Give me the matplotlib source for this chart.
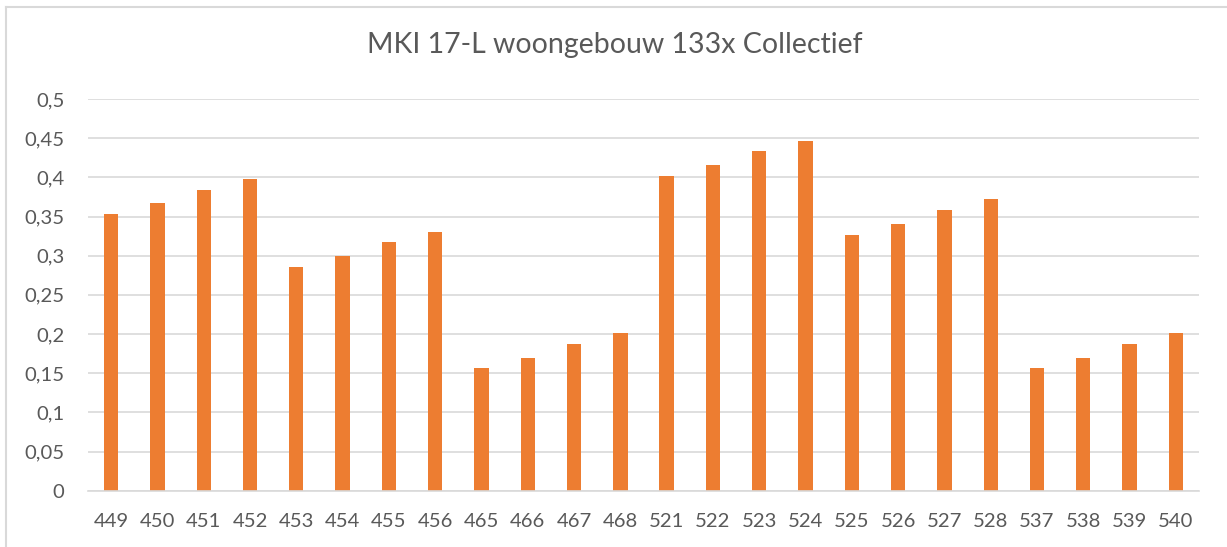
import matplotlib.pyplot as plt
from matplotlib.lines import Line2D
from matplotlib.ticker import FuncFormatter

plt.rcParams['font.family'] = ['Lato', 'DejaVu Sans']

codes = ["449", "450", "451", "452", "453", "454", "455", "456",
         "465", "466", "467", "468", "521", "522", "523", "524",
         "525", "526", "527", "528", "537", "538", "539", "540"]
mki = [0.353, 0.367, 0.384, 0.398, 0.286, 0.300, 0.317, 0.330,
       0.156, 0.169, 0.187, 0.201, 0.402, 0.416, 0.433, 0.446,
       0.327, 0.341, 0.358, 0.372, 0.156, 0.169, 0.187, 0.201]
yticks = [0, 0.05, 0.1, 0.15, 0.2, 0.25, 0.3, 0.35, 0.4, 0.45, 0.5]

ORANGE = "#ED7D31"
TEXT = "#595959"
GRID = "#D9D9D9"

W, H = 1227, 547
fig = plt.figure(figsize=(W / 100, H / 100), dpi=100)
ax = fig.add_axes([88 / W, 1 - 490.7 / H, (1199 - 88) / W, (490.7 - 99) / H])

x = range(len(codes))
ax.bar(x, mki, width=0.31, color=ORANGE, zorder=3)

ax.set_xlim(-0.5, len(codes) - 0.5)
ax.set_ylim(0, 0.5)
ax.set_yticks(yticks)
ax.yaxis.set_major_formatter(FuncFormatter(lambda v, _: ("%g" % v).replace(".", ",")))
ax.set_xticks(list(x))
ax.set_xticklabels(codes)

ax.grid(axis="y", color=GRID, linewidth=1.2, zorder=0)
for side in ("top", "right", "left"):
    ax.spines[side].set_visible(False)
ax.spines["bottom"].set_color(GRID)
ax.spines["bottom"].set_linewidth(1.2)
ax.spines["bottom"].set_zorder(4)

ax.tick_params(axis="both", length=0, colors=TEXT, labelsize=14.6)
ax.tick_params(axis="y", pad=17)
ax.tick_params(axis="x", pad=16)

fig.text(615 / W, 1 - 45 / H, "MKI 17-L woongebouw 133x Collectief",
         ha="center", va="center", fontsize=20.5, color=TEXT)

# thin chart border (top and left only)
fig.add_artist(Line2D([5.5 / W, 1], [1 - 6.5 / H] * 2, color=GRID, linewidth=1.5))
fig.add_artist(Line2D([5.5 / W] * 2, [0, 1 - 6.5 / H], color=GRID, linewidth=1.5))

fig.savefig("out.png", dpi=100)
